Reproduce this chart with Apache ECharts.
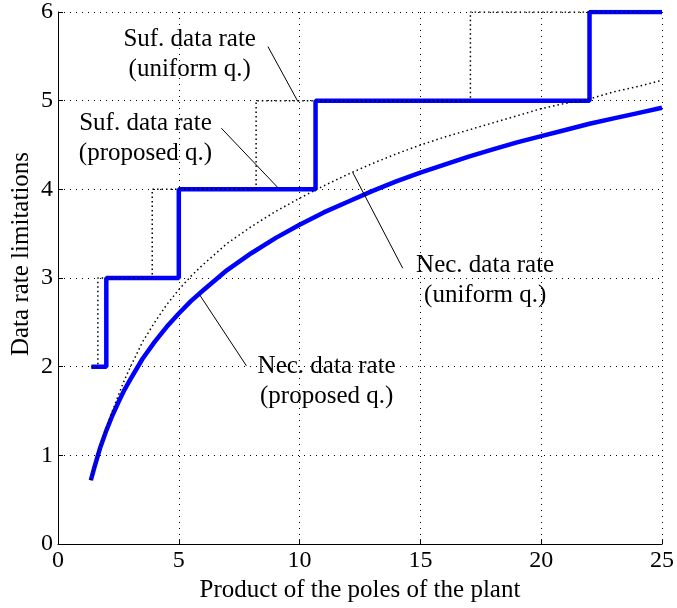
<!DOCTYPE html>
<html>
<head>
<meta charset="utf-8">
<script src="https://cdn.jsdelivr.net/npm/echarts@6/dist/echarts.min.js"></script>
<style>
html, body { margin: 0; padding: 0; background: #fff; }
#main { width: 677px; height: 608px; }
</style>
</head>
<body>
<div id="main"></div>
<script>
// axis ranges
var xMin = 0, xMax = 25, xStep = 5
var yMin = 0, yMax = 6, yStep = 1

var curveX = [1.36, 1.5, 1.75, 2, 2.25, 2.5, 2.75, 3, 3.5, 4, 4.5, 5, 5.5, 6, 7, 8, 9, 10, 11, 12, 13, 14, 15, 16, 17, 18, 19, 20, 21, 22, 23, 24, 25]
// Nec. data rate (proposed q.)
var necProposed = [0.72, 0.86, 1.09, 1.28, 1.45, 1.60, 1.74, 1.86, 2.09, 2.28, 2.45, 2.60, 2.74, 2.86, 3.09, 3.28, 3.45, 3.60, 3.74, 3.86, 3.98, 4.09, 4.19, 4.28, 4.37, 4.45, 4.53, 4.60, 4.67, 4.74, 4.80, 4.86, 4.92]
// Nec. data rate (uniform q.)
var necUniform = [0.72, 0.86, 1.10, 1.31, 1.50, 1.68, 1.85, 2.00, 2.28, 2.50, 2.70, 2.87, 3.02, 3.15, 3.39, 3.58, 3.75, 3.90, 4.04, 4.17, 4.29, 4.40, 4.50, 4.59, 4.67, 4.75, 4.83, 4.91, 4.97, 5.02, 5.10, 5.16, 5.23]

// step curves: x where each level starts, and the level
var sufProposedX = [1.38, 2, 5, 10.66, 22, 25]
var sufProposedY = [2, 3, 4, 5, 6, 6]
var sufUniformX = [1.38, 1.65, 3.9, 8.2, 17.07, 25]
var sufUniformY = [2, 3, 4, 5, 6, 6]

// annotations: text centre and pointer line, in data units
var notes = [
    { text: 'Suf. data rate\n(uniform q.)', at: [5.45, 5.52], from: [8.69, 5.61], to: [9.93, 4.99] },
    { text: 'Suf. data rate\n(proposed q.)', at: [3.62, 4.57], from: [6.76, 4.69], to: [9.10, 4.02] },
    { text: 'Nec. data rate\n(uniform q.)', at: [17.68, 2.97], from: [14.27, 3.11], to: [12.2, 4.19] },
    { text: 'Nec. data rate\n(proposed q.)', at: [11.12, 1.83], from: [7.80, 2.01], to: [5.84, 2.82] }
]

function zip (xs, ys) {
    return xs.map(function (x, i) { return [x, ys[i]] })
}

var font = 'Liberation Serif, Times New Roman, serif'
var gridLine = { show: true, lineStyle: { color: '#000', width: 1, type: [1, 5] } }
var dotted = { color: '#000', width: 1.5, type: [1.5, 3] }

var chart = echarts.init(document.getElementById('main'))
chart.setOption({
    animation: false,
    backgroundColor: '#fff',
    grid: { left: 58, right: 14, top: 8, bottom: 61 },
    xAxis: {
        type: 'value',
        min: xMin,
        max: xMax,
        interval: xStep,
        name: 'Product of the poles of the plant',
        nameLocation: 'middle',
        nameGap: 26,
        nameTextStyle: { fontFamily: font, fontSize: 25, color: '#000' },
        axisLine: { show: true, onZero: false, lineStyle: { color: '#000', width: 1 } },
        axisTick: { show: true, inside: true, length: 5, lineStyle: { color: '#000' } },
        axisLabel: { fontFamily: font, fontSize: 24, color: '#000', margin: 5 },
        splitLine: gridLine
    },
    yAxis: {
        type: 'value',
        min: yMin,
        max: yMax,
        interval: yStep,
        axisLine: { show: true, onZero: false, lineStyle: { color: '#000', width: 1 } },
        axisTick: { show: true, inside: true, length: 5, lineStyle: { color: '#000' } },
        axisLabel: { fontFamily: font, fontSize: 24, color: '#000', margin: 5 },
        splitLine: gridLine
    },
    series: [
        {
            name: 'Nec. proposed',
            type: 'line',
            data: zip(curveX, necProposed),
            symbol: 'none',
            lineStyle: { color: '#0000ff', width: 4.5, join: 'round' }
        },
        {
            name: 'Suf. proposed',
            type: 'line',
            data: zip(sufProposedX, sufProposedY),
            step: 'end',
            symbol: 'none',
            lineStyle: { color: '#0000ff', width: 4.5 }
        },
        {
            name: 'Nec. uniform',
            type: 'line',
            data: zip(curveX, necUniform),
            symbol: 'none',
            lineStyle: dotted
        },
        {
            name: 'Suf. uniform',
            type: 'line',
            data: zip(sufUniformX, sufUniformY),
            step: 'end',
            symbol: 'none',
            lineStyle: dotted
        }
    ]
})

// text annotations and y-axis title placed through the grid's own scale
var graphics = []
notes.forEach(function (n) {
    var p = chart.convertToPixel({ gridIndex: 0 }, n.at)
    var a = chart.convertToPixel({ gridIndex: 0 }, n.from)
    var b = chart.convertToPixel({ gridIndex: 0 }, n.to)
    graphics.push({
        type: 'line',
        shape: { x1: a[0], y1: a[1], x2: b[0], y2: b[1] },
        style: { stroke: '#000', lineWidth: 1 },
        z: 100
    })
    graphics.push({
        type: 'text',
        x: p[0],
        y: p[1],
        style: {
            text: n.text,
            fontFamily: font,
            fontSize: 25,
            lineHeight: 30,
            fill: '#000',
            align: 'center',
            verticalAlign: 'middle'
        },
        z: 100
    })
})
graphics.push({
    type: 'text',
    x: 21,
    y: 254,
    rotation: Math.PI / 2,
    style: {
        text: 'Data rate limitations',
        fontFamily: font,
        fontSize: 25,
        fill: '#000',
        align: 'center',
        verticalAlign: 'middle'
    }
})
chart.setOption({ graphic: graphics })
</script>
</body>
</html>
